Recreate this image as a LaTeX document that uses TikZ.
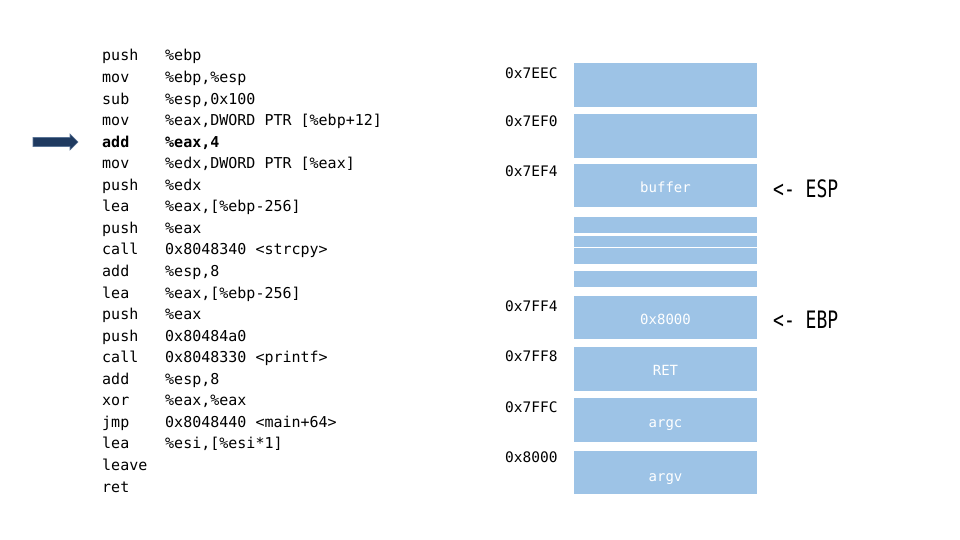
\documentclass[tikz,border=0pt]{standalone}
\usepackage{fontspec}
\usepackage{graphicx}
\setmonofont{DejaVu Sans Mono}
\begin{document}
\begin{tikzpicture}[x=1pt,y=-1pt,
  code/.style={anchor=base west,inner sep=0pt,font=\ttfamily\fontsize{15}{15}\selectfont},
  boldcode/.style={code,font=\ttfamily\bfseries\fontsize{15}{15}\selectfont},
  addr/.style={anchor=base west,inner sep=0pt,font=\ttfamily\fontsize{14.5}{14.5}\selectfont},
  cell/.style={fill=cellblue,draw=none},
  celltext/.style={anchor=base,inner sep=0pt,text=white,font=\ttfamily\fontsize{14}{14}\selectfont},
  reg/.style={anchor=base west,inner sep=0pt,font=\ttfamily\fontsize{24}{24}\selectfont}]
\definecolor{cellblue}{HTML}{9DC3E6}
\definecolor{arrownavy}{HTML}{1F3A60}
\definecolor{arrowedge}{HTML}{5A7496}
\useasboundingbox (0,0) rectangle (960,540);
\fill[white] (0,0) rectangle (960,540);
% pointer arrow
\filldraw[fill=arrownavy,draw=arrowedge,line width=0.6pt]
  (33,137.5) -- (70,137.5) -- (70,134) -- (78,142) -- (70,150) -- (70,146.5) -- (33,146.5) -- cycle;
% code listing
\def\lh{21.55}
\node[code] (m1) at (102,61) {push};   \node[code] (o1) at (165,61) {\%ebp};
\node[code] (m2) at (102,82.55) {mov}; \node[code] (o2) at (165,82.55) {\%ebp,\%esp};
\node[code] (m3) at (102,104.1) {sub}; \node[code] (o3) at (165,104.1) {\%esp,0x100};
\node[code] (m4) at (102,125.65) {mov}; \node[code] (o4) at (165,125.65) {\%eax,DWORD PTR [\%ebp+12]};
\node[boldcode] (m5) at (102,147.2) {add}; \node[boldcode] (o5) at (165,147.2) {\%eax,4};
\node[code] (m6) at (102,168.75) {mov}; \node[code] (o6) at (165,168.75) {\%edx,DWORD PTR [\%eax]};
\node[code] (m7) at (102,190.3) {push}; \node[code] (o7) at (165,190.3) {\%edx};
\node[code] (m8) at (102,211.85) {lea}; \node[code] (o8) at (165,211.85) {\%eax,[\%ebp-256]};
\node[code] (m9) at (102,233.4) {push}; \node[code] (o9) at (165,233.4) {\%eax};
\node[code] (m10) at (102,254.95) {call}; \node[code] (o10) at (165,254.95) {0x8048340 <strcpy>};
\node[code] (m11) at (102,276.5) {add}; \node[code] (o11) at (165,276.5) {\%esp,8};
\node[code] (m12) at (102,298.05) {lea}; \node[code] (o12) at (165,298.05) {\%eax,[\%ebp-256]};
\node[code] (m13) at (102,319.6) {push}; \node[code] (o13) at (165,319.6) {\%eax};
\node[code] (m14) at (102,341.15) {push}; \node[code] (o14) at (165,341.15) {0x80484a0};
\node[code] (m15) at (102,362.7) {call}; \node[code] (o15) at (165,362.7) {0x8048330 <printf>};
\node[code] (m16) at (102,384.25) {add}; \node[code] (o16) at (165,384.25) {\%esp,8};
\node[code] (m17) at (102,405.8) {xor}; \node[code] (o17) at (165,405.8) {\%eax,\%eax};
\node[code] (m18) at (102,427.35) {jmp}; \node[code] (o18) at (165,427.35) {0x8048440 <main+64>};
\node[code] (m19) at (102,448.9) {lea}; \node[code] (o19) at (165,448.9) {\%esi,[\%esi*1]};
\node[code] (m20) at (102,470.45) {leave};
\node[code] (m21) at (102,492) {ret};
% stack cells
\fill[cell] (574,63) rectangle (757,107);
\fill[cell] (574,114) rectangle (757,158);
\fill[cell] (574,164) rectangle (757,207);
\fill[cell] (574,217) rectangle (757,233);
\fill[cell] (574,236) rectangle (757,247);
\fill[cell] (574,248) rectangle (757,264);
\fill[cell] (574,271) rectangle (757,287);
\fill[cell] (574,296) rectangle (757,339);
\fill[cell] (574,347) rectangle (757,391);
\fill[cell] (574,398) rectangle (757,442);
\fill[cell] (574,451) rectangle (757,494);
% cell labels
\node[celltext] (lbuf) at (665.5,193) {buffer};
\node[celltext] (lebp) at (665.5,324) {0x8000};
\node[celltext] (lret) at (665.5,375) {RET};
\node[celltext] (largc) at (665.5,427) {argc};
\node[celltext] (largv) at (665.5,481) {argv};
% addresses
\node[addr] (a1) at (505,78.5) {0x7EEC};
\node[addr] (a2) at (505,127) {0x7EF0};
\node[addr] (a3) at (505,177) {0x7EF4};
\node[addr] (a4) at (505,311) {0x7FF4};
\node[addr] (a5) at (505,361) {0x7FF8};
\node[addr] (a6) at (505,412) {0x7FFC};
\node[addr] (a7) at (505,462) {0x8000};
% registers
\node[reg] (esp) at (773,197) {\scalebox{0.75}[1]{<- ESP}};
\node[reg] (ebp) at (773,328) {\scalebox{0.75}[1]{<- EBP}};
\end{tikzpicture}
\end{document}
